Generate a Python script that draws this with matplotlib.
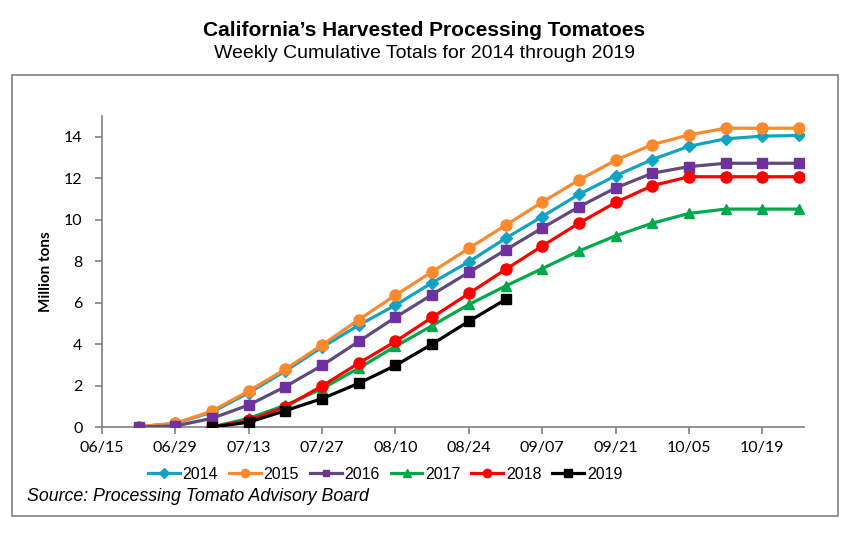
import numpy as np
import pandas as pd
import matplotlib
matplotlib.use('Agg')
import matplotlib.pyplot as plt
import matplotlib.dates as mdates
from matplotlib.patches import Rectangle

# --- data (million tons, weekly cumulative) ---
weeks = pd.date_range('2019-06-22', periods=19, freq='7D')

y2014 = [0.02, 0.17, 0.72, 1.65, 2.70, 3.85, 4.91, 5.88, 6.96, 7.97, 9.10, 10.15,
         11.22, 12.12, 12.90, 13.54, 13.90, 14.03, 14.06]
y2015 = [0.02, 0.18, 0.77, 1.74, 2.79, 3.96, 5.18, 6.36, 7.49, 8.62, 9.73, 10.85,
         11.91, 12.87, 13.62, 14.09, 14.41, 14.41, 14.41]
y2016 = [0.0, 0.05, 0.42, 1.06, 1.95, 2.97, 4.13, 5.29, 6.39, 7.46, 8.54, 9.60,
         10.62, 11.53, 12.24, 12.56, 12.72, 12.72, 12.72]
y2017 = [None, None, 0.0, 0.42, 1.05, 1.85, 2.84, 3.89, 4.89, 5.91, 6.80, 7.64,
         8.49, 9.22, 9.83, 10.30, 10.51, 10.51, 10.51]
y2018 = [None, None, 0.0, 0.32, 0.98, 1.98, 3.08, 4.13, 5.29, 6.44, 7.60, 8.73,
         9.83, 10.83, 11.64, 12.07, 12.07, 12.07, 12.07]
y2019 = [None, None, 0.0, 0.23, 0.79, 1.37, 2.11, 2.97, 4.00, 5.10, 6.15]

series = [
    ('2014', y2014, '#12a3c3', '#12a3c3', 'D', 6.5),
    ('2015', y2015, '#fb8a2e', '#fb8a2e', 'o', 8),
    ('2016', y2016, '#604a7b', '#7030a0', 's', 6.5),
    ('2017', y2017, '#00a84c', '#00a84c', '^', 7.5),
    ('2018', y2018, '#ff0000', '#ff0000', 'o', 8),
    ('2019', y2019, '#000000', '#000000', 's', 7.5),
]

# --- plot ---
fig = plt.figure(figsize=(8.49, 5.37), dpi=100)
ax = fig.add_axes([0.1201, 0.2048, 0.8273, 0.5792])

for name, vals, lc, mc, mk, ms in series:
    v = np.array([np.nan if x is None else x for x in vals], dtype=float)
    ax.plot(weeks[:len(v)], v, color=lc, lw=2.3, marker=mk, ms=ms,
            markerfacecolor=mc, markeredgecolor=mc, label=name, zorder=3)

ax.set_xlim(pd.Timestamp('2019-06-15'), pd.Timestamp('2019-10-27'))
ax.set_ylim(0, 15)
ax.set_yticks(range(0, 15, 2))
ax.set_xticks(pd.date_range('2019-06-15', '2019-10-19', freq='14D'))
ax.xaxis.set_major_formatter(mdates.DateFormatter('%m/%d'))

for s in ['top', 'right']:
    ax.spines[s].set_visible(False)
for s in ['left', 'bottom']:
    ax.spines[s].set_color('#808080')
    ax.spines[s].set_linewidth(1.2)
ax.tick_params(axis='both', colors='#808080', length=5, width=1.2, labelcolor='black',
               labelsize=11.5)
ax.tick_params(axis='x', pad=5)
ax.tick_params(axis='y', pad=9)
for lab in ax.get_xticklabels() + ax.get_yticklabels():
    lab.set_family('Lato')

ax.set_ylabel('Million tons', fontsize=11, fontweight='bold', family='Lato', labelpad=8)

# titles
fig.text(0.5, 0.943, 'California\u2019s Harvested Processing Tomatoes', ha='center', va='center',
         fontsize=15, fontweight='bold', family='Liberation Sans')
fig.text(0.5, 0.901, 'Weekly Cumulative Totals for 2014 through 2019', ha='center', va='center',
         fontsize=14, family='Liberation Sans')

leg = fig.legend(loc='center left', bbox_to_anchor=(0.174, 0.1170), ncol=6, frameon=False,
                 prop={'family': 'Liberation Sans', 'size': 11.5}, handlelength=2.0,
                 handletextpad=0.15, columnspacing=0.7, markerscale=0.75,
                 borderaxespad=0, borderpad=0)

fig.text(0.032, 0.0745, 'Source: Processing Tomato Advisory Board', ha='left', va='center',
         fontsize=12.8, style='italic', family='Liberation Sans')

# chart border
fig.patches.append(Rectangle((12 / 849, 1 - 516 / 537), (838 - 12) / 849, (516 - 75) / 537,
                             transform=fig.transFigure, fill=False, edgecolor='#808080', lw=1.2))

fig.savefig('out.png', dpi=100)
